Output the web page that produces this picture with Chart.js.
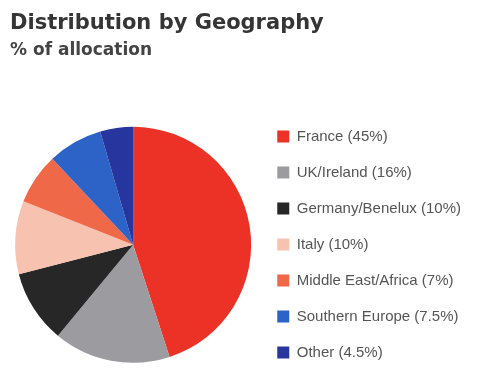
<!DOCTYPE html>
<html>
<head>
<meta charset="utf-8">
<script src="https://cdn.jsdelivr.net/npm/chart.js@4"></script>
<style>
    html, body { margin: 0; padding: 0; background: #ffffff; }
    #wrap { width: 481px; height: 387px; position: relative; }
</style>
</head>
<body>
<div id="wrap"><canvas id="geoChart"></canvas></div>
<script>
const regions = [
    "France (45%)",
    "UK/Ireland (16%)",
    "Germany/Benelux (10%)",
    "Italy (10%)",
    "Middle East/Africa (7%)",
    "Southern Europe (7.5%)",
    "Other (4.5%)"
];
const shares = [45, 16, 10, 10, 7, 7.5, 4.5];
const sliceColors = ["#ec3126", "#9c9ca0", "#272727", "#f7c2b0", "#ef6848", "#2d63c6", "#26369e"];

function renderGeoChart() {
    const canvas = document.getElementById("geoChart");
    if (!canvas) return;

    const ctx = canvas.getContext("2d");

    new Chart(ctx, {
        type: "pie",
        data: {
            labels: regions,
            datasets: [{
                data: shares,
                backgroundColor: sliceColors,
                borderWidth: 0,
                radius: 118
            }]
        },
        options: {
            responsive: true,
            maintainAspectRatio: false,
            animation: false,
            layout: {
                padding: { left: 10, right: 10, top: 0, bottom: 6 }
            },
            plugins: {
                title: {
                    display: true,
                    text: "Distribution by Geography",
                    align: "start",
                    color: "#353535",
                    font: { family: "DejaVu Sans", size: 21, weight: "bold" },
                    padding: { top: 11, bottom: 4 }
                },
                subtitle: {
                    display: true,
                    text: "% of allocation",
                    align: "start",
                    color: "#444444",
                    font: { family: "DejaVu Sans", size: 17, weight: "bold" },
                    padding: { top: 0, bottom: 48 }
                },
                legend: {
                    display: true,
                    position: "right",
                    align: "end",
                    labels: {
                        boxWidth: 12,
                        boxHeight: 12,
                        padding: 21,
                        color: "#555555",
                        font: { family: "Arial, Liberation Sans", size: 15 }
                    }
                },
                tooltip: { enabled: false }
            }
        }
    });
}

renderGeoChart();
</script>
</body>
</html>
